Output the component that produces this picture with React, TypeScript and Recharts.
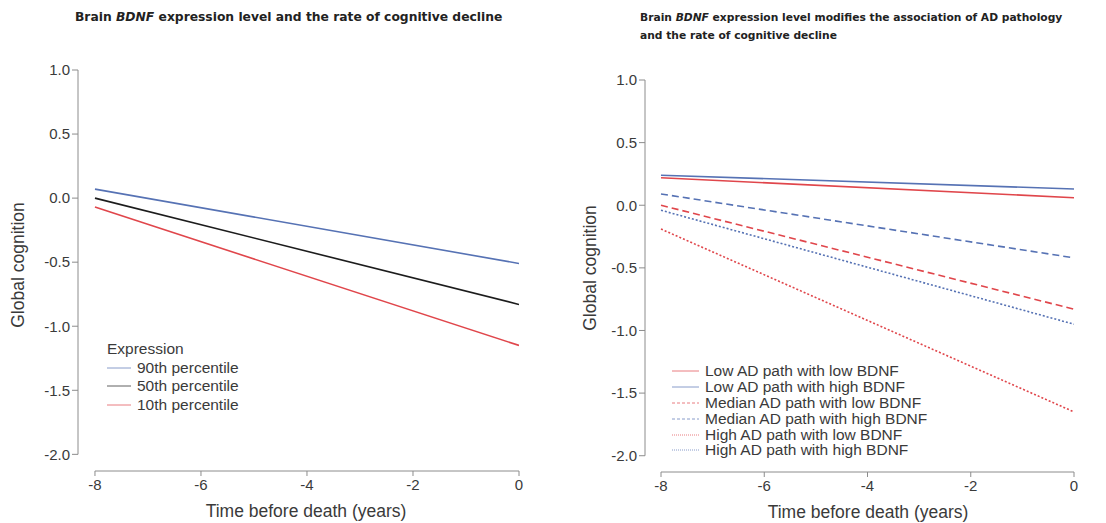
import React from "react"
import { LineChart, Line, XAxis, YAxis, ReferenceLine, Legend } from "recharts"

// time points (years before death)
const years = [-8, 0]
const xTicks = [-8, -6, -4, -2, 0]
const yTicks = [-2, -1.5, -1, -0.5, 0, 0.5, 1]

// left panel: BDNF expression percentiles
const expr90 = [0.07, -0.51]
const expr50 = [0.0, -0.83]
const expr10 = [-0.07, -1.15]

// right panel: AD pathology x BDNF
const lowAdLow = [0.22, 0.06]
const lowAdHigh = [0.24, 0.13]
const medAdLow = [0.0, -0.83]
const medAdHigh = [0.09, -0.42]
const highAdLow = [-0.19, -1.65]
const highAdHigh = [-0.04, -0.95]

const BLUE = "#5672b4"
const RED = "#e0464b"
const BLACK = "#1c1c1c"
const AXIS = "#8c8c8c"
const sans = "'Liberation Sans', Arial, sans-serif"
const titleFont = "'DejaVu Sans', sans-serif"
const TICK_FONT = { fontFamily: sans, fontSize: 15, fill: "#3a3a3a" }

const leftSeries = [
  { key: "e90", name: "90th percentile", values: expr90, color: BLUE, dash: undefined as string | undefined },
  { key: "e50", name: "50th percentile", values: expr50, color: BLACK, dash: undefined },
  { key: "e10", name: "10th percentile", values: expr10, color: RED, dash: undefined },
]

const rightSeries = [
  { key: "la_l", name: "Low AD path with low BDNF", values: lowAdLow, color: RED, dash: undefined as string | undefined },
  { key: "la_h", name: "Low AD path with high BDNF", values: lowAdHigh, color: BLUE, dash: undefined },
  { key: "ma_l", name: "Median AD path with low BDNF", values: medAdLow, color: RED, dash: "7 4" },
  { key: "ma_h", name: "Median AD path with high BDNF", values: medAdHigh, color: BLUE, dash: "7 4" },
  { key: "ha_l", name: "High AD path with low BDNF", values: highAdLow, color: RED, dash: "2 2" },
  { key: "ha_h", name: "High AD path with high BDNF", values: highAdHigh, color: BLUE, dash: "2 2" },
]

type Series = typeof leftSeries

function buildRows(series: Series) {
  return years.map((t, i) => {
    const row: Record<string, number> = { t }
    series.forEach((s) => (row[s.key] = s.values[i]))
    return row
  })
}

function LegendList({ series, heading, rowH, left, top, lineW }: {
  series: Series; heading?: string; rowH: number; left: number; top: number; lineW: number
}) {
  return (
    <div style={{ position: "absolute", left, top, fontFamily: sans, fontSize: 15.5, color: "#3a3a3a", lineHeight: `${rowH}px` }}>
      {heading && <div style={{ height: rowH }}>{heading}</div>}
      {series.map((s) => (
        <div key={s.key} style={{ display: "flex", alignItems: "center", height: rowH, whiteSpace: "nowrap" }}>
          <svg width={lineW} height={6} style={{ marginRight: 6 }}>
            <line x1={0} x2={lineW} y1={3} y2={3} stroke={s.color} strokeOpacity={0.7} strokeWidth={1} strokeDasharray={s.dash === "7 4" ? "3 2" : s.dash === "2 2" ? "1 1" : undefined} />
          </svg>
          <span>{s.name}</span>
        </div>
      ))}
    </div>
  )
}

function Panel({ series, width, yAxisW, top, right, bottom, xMin, yMin }: {
  series: Series; width: number; yAxisW: number; top: number; right: number; bottom: number; xMin: number; yMin: number
}) {
  const rows = buildRows(series)
  return (
    <LineChart width={width} height={523} data={rows} margin={{ top, right, bottom, left: 0 }}>
      <XAxis
        dataKey="t"
        type="number"
        domain={[xMin, 0]}
        ticks={xTicks}
        allowDataOverflow
        axisLine={false}
        tickLine={{ stroke: AXIS }}
        tickSize={5}
        tickMargin={3}
        height={30}
        tick={TICK_FONT}
      />
      <YAxis
        type="number"
        domain={[yMin, 1]}
        ticks={yTicks}
        allowDataOverflow
        axisLine={false}
        tickLine={{ stroke: AXIS }}
        tickSize={6}
        tickMargin={2}
        width={yAxisW}
        tick={TICK_FONT}
        tickFormatter={(v: number) => v.toFixed(1)}
      />
      <ReferenceLine segment={[{ x: -8, y: yMin }, { x: 0, y: yMin }]} stroke={AXIS} ifOverflow="visible" />
      <ReferenceLine segment={[{ x: xMin, y: -2 }, { x: xMin, y: 1 }]} stroke={AXIS} ifOverflow="visible" />
      {series.map((s) => (
        <Line
          key={s.key}
          dataKey={s.key}
          name={s.name}
          stroke={s.color}
          strokeWidth={1.6}
          strokeDasharray={s.dash}
          dot={false}
          isAnimationActive={false}
        />
      ))}
      <Legend content={() => null} />
    </LineChart>
  )
}

const axisTitle = { position: "absolute" as const, whiteSpace: "nowrap" as const, fontFamily: sans, fontSize: 17.5, color: "#3a3a3a" }

export default function App() {
  return (
    <div style={{ position: "fixed", left: 0, top: 0, width: 1106, height: 523, background: "#fff", overflow: "hidden" }}>
      <div style={{ position: "absolute", left: 0, top: 0 }}>
        <Panel series={leftSeries} width={550} yAxisW={78} top={70} right={31} bottom={22} xMin={-8.32} yMin={-2.13} />
      </div>
      <div style={{ position: "absolute", left: 550, top: 0 }}>
        <Panel series={rightSeries} width={556} yAxisW={95} top={80} right={32} bottom={21} xMin={-8.31} yMin={-2.13} />
      </div>

      <div style={{ position: "absolute", left: 75, top: 10, fontFamily: titleFont, fontWeight: 700, fontSize: 12.3, color: "#222", whiteSpace: "nowrap" }}>
        Brain <i>BDNF</i> expression level and the rate of cognitive decline
      </div>
      <div style={{ position: "absolute", left: 640, top: 9, fontFamily: titleFont, fontWeight: 700, fontSize: 10.7, color: "#222", lineHeight: "18px", whiteSpace: "nowrap" }}>
        Brain <i>BDNF</i> expression level modifies the association of AD pathology
        <br />
        and the rate of cognitive decline
      </div>

      <div style={{ ...axisTitle, left: 18, top: 265, transform: "translate(-50%, -50%) rotate(-90deg)" }}>
        Global cognition
      </div>
      <div style={{ ...axisTitle, left: 590, top: 268, transform: "translate(-50%, -50%) rotate(-90deg)" }}>
        Global cognition
      </div>
      <div style={{ ...axisTitle, left: 306, top: 511, transform: "translate(-50%, -50%)" }}>
        Time before death (years)
      </div>
      <div style={{ ...axisTitle, left: 868, top: 512, transform: "translate(-50%, -50%)" }}>
        Time before death (years)
      </div>

      <LegendList series={leftSeries} heading="Expression" rowH={18.5} left={107} top={340} lineW={24} />
      <LegendList series={rightSeries} rowH={15.9} left={672} top={363} lineW={27} />
    </div>
  )
}
